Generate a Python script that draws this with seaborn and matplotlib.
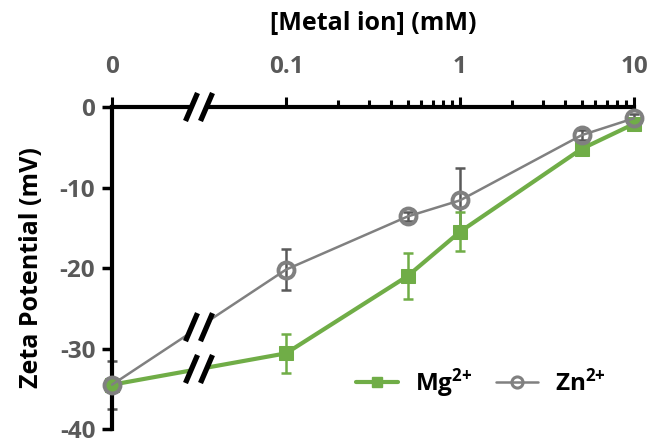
import numpy as np
import pandas as pd
import matplotlib
matplotlib.use("Agg")
import matplotlib.pyplot as plt
from matplotlib.lines import Line2D
import seaborn as sns

# Metal ion concentration (mM) and measured zeta potentials (mV)
conc = [0, 0.1, 0.5, 1, 5, 10]
mg_zeta = [-34.5, -30.6, -21.0, -15.5, -5.2, -2.1]
mg_err = [0.0, 2.4, 2.9, 2.4, 0.6, 0.5]
zn_zeta = [-34.5, -20.2, -13.6, -11.6, -3.5, -1.4]
zn_err = [3.0, 2.5, 0.6, 4.0, 0.6, 0.5]

tick_vals = [0, 0.1, 1, 10]
tick_labels = ["0", "0.1", "1", "10"]
y_ticks = [0, -10, -20, -30, -40]
series_labels = ["Mg$^{2{+}}$", "Zn$^{2{+}}$"]

ZERO_POS = -2.0   # where the zero concentration sits on the log axis
BREAK_POS = -1.5  # axis break between 0 and 0.1


def to_pos(c):
    return np.array([np.log10(v) if v > 0 else ZERO_POS for v in c])


FONT = "Open Sans"
sns.set_theme(style="white")
plt.rcParams["font.family"] = [FONT, "DejaVu Sans"]
plt.rcParams["font.weight"] = "bold"
plt.rcParams["mathtext.fontset"] = "custom"
plt.rcParams["mathtext.rm"] = f"{FONT}:bold"
plt.rcParams["mathtext.it"] = f"{FONT}:bold"
plt.rcParams["mathtext.bf"] = f"{FONT}:bold"
plt.rcParams["mathtext.default"] = "rm"

GREEN = "#70AD47"
GREY = "#808080"
DGREY = "#595959"
FS = 17.5
LFS = 18

W, H = 649, 443
fig = plt.figure(figsize=(W / 100, H / 100), dpi=100)
fig.patch.set_facecolor("white")
x0, x1, ytop, ybot = 112, 634, 107, 429
ax = fig.add_axes([x0 / W, 1 - ybot / H, (x1 - x0) / W, (ybot - ytop) / H])
ax.set_facecolor("white")

pos = to_pos(conc)
df = pd.DataFrame({
    "pos": np.concatenate([pos, pos]),
    "zeta": mg_zeta + zn_zeta,
    "ion": ["Mg"] * len(conc) + ["Zn"] * len(conc),
})

# error bars
ax.errorbar(pos, zn_zeta, yerr=zn_err, fmt="none", ecolor=DGREY,
            elinewidth=1.8, capsize=3.5, capthick=1.8, zorder=2, clip_on=False)
ax.errorbar(pos, mg_zeta, yerr=mg_err, fmt="none", ecolor=GREEN,
            elinewidth=1.8, capsize=3.5, capthick=1.8, zorder=3, clip_on=False)

sns.lineplot(data=df[df.ion == "Mg"], x="pos", y="zeta", ax=ax, color=GREEN,
             linewidth=3, marker="s", markersize=10, markeredgecolor=GREEN,
             markerfacecolor=GREEN, zorder=4, clip_on=False, legend=False)
sns.lineplot(data=df[df.ion == "Zn"], x="pos", y="zeta", ax=ax, color=GREY,
             linewidth=1.8, marker="o", markersize=11.5, markeredgecolor=GREY,
             markerfacecolor="none", markeredgewidth=2.8, zorder=5,
             clip_on=False, legend=False)

ax.set_xlim(ZERO_POS, 1)
ax.set_ylim(-40, 0)

# axes styling
for side in ["right", "bottom"]:
    ax.spines[side].set_visible(False)
for side in ["left", "top"]:
    ax.spines[side].set_visible(True)
    ax.spines[side].set_color("black")
    ax.spines[side].set_linewidth(3)

ax.xaxis.tick_top()
ax.xaxis.set_label_position("top")
ax.set_xticks(to_pos(tick_vals))
ax.set_xticklabels(tick_labels)
minor = [np.log10(m * d) for d in (0.1, 1) for m in range(2, 10)]
ax.set_xticks(minor, minor=True)
ax.set_yticks(y_ticks)
ax.set_yticklabels([str(v) for v in y_ticks])
ax.tick_params(axis="x", which="major", direction="out", length=7, width=2.2,
               color="black", labelsize=FS, labelcolor=DGREY, pad=13,
               top=True, bottom=False)
ax.tick_params(axis="x", which="minor", direction="out", length=5, width=2.2,
               color="black", top=True, bottom=False)
ax.tick_params(axis="y", direction="out", length=7, width=2.5, color="black",
               labelsize=FS, labelcolor=DGREY, pad=5, left=True)
for lab in ax.get_xticklabels() + ax.get_yticklabels():
    lab.set_fontweight("bold")

ax.set_xlabel("[Metal ion] (mM)", fontsize=LFS, fontweight="bold",
              color="black", labelpad=18)
ax.set_ylabel("Zeta Potential (mV)", fontsize=LFS, fontweight="bold",
              color="black", labelpad=11)
ax.grid(False)


def draw_break(xd, yd, lw=3.8):
    """Two parallel slashes with a white gap, centred on a data point."""
    to_disp = ax.transData
    inv = ax.transData.inverted()
    cx, cy = to_disp.transform((xd, yd))
    half_h, half_w, sep = 14, 6, 7.5
    pts = []
    for s in (-sep, sep):
        a = (cx + s - half_w, cy - half_h)
        b = (cx + s + half_w, cy + half_h)
        pts.append((a, b))
    (a1, b1), (a2, b2) = pts
    poly = inv.transform([a1, b1, b2, a2])
    ax.fill(poly[:, 0], poly[:, 1], color="white", zorder=8, clip_on=False,
            linewidth=0)
    for a, b in pts:
        seg = inv.transform([a, b])
        ax.plot(seg[:, 0], seg[:, 1], color="black", linewidth=lw,
                solid_capstyle="butt", zorder=9, clip_on=False)


# breaks on the axis and on each series between 0 and 0.1
draw_break(BREAK_POS, 0.0)
draw_break(BREAK_POS, (mg_zeta[0] + mg_zeta[1]) / 2)
draw_break(BREAK_POS, (zn_zeta[0] + zn_zeta[1]) / 2)

handles = [
    Line2D([], [], color=GREEN, linewidth=3, marker="s", markersize=7,
           markerfacecolor=GREEN, markeredgecolor=GREEN),
    Line2D([], [], color=GREY, linewidth=1.8, marker="o", markersize=8,
           markerfacecolor="none", markeredgecolor=GREY, markeredgewidth=2.2),
]
ax.legend(handles, series_labels, loc="center",
          bbox_to_anchor=((481 - x0) / (x1 - x0), (ybot - 383) / (ybot - ytop)),
          ncol=2, frameon=False, fontsize=FS, handlelength=1.7,
          columnspacing=1.0, handletextpad=0.7, labelcolor="black")

fig.savefig("out.png", dpi=100, facecolor="white")
